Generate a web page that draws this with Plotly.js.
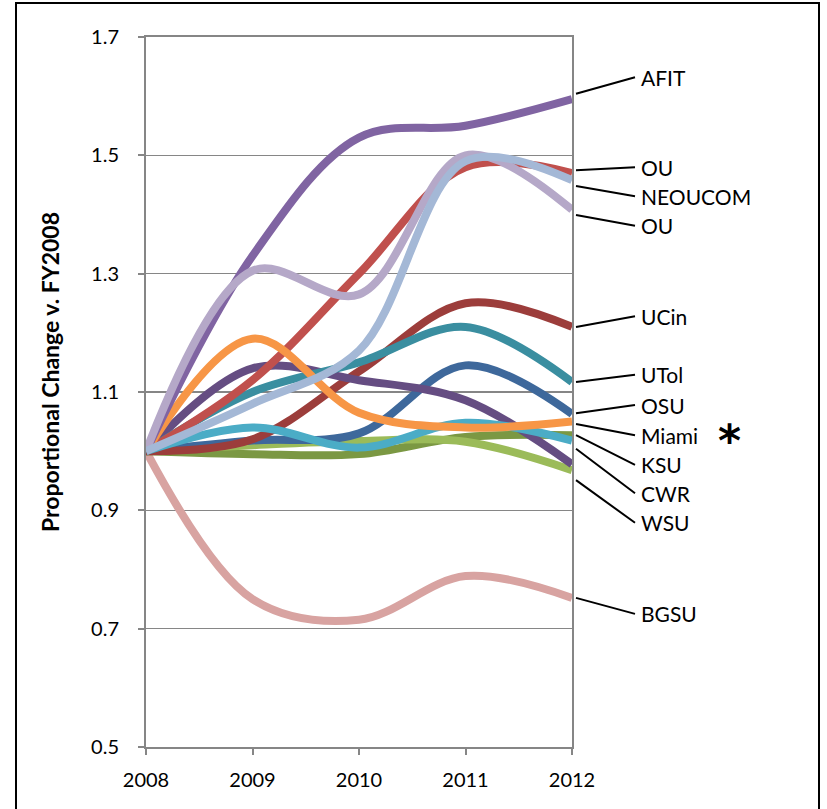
<!DOCTYPE html>
<html>
<head>
<meta charset="utf-8">
<script src="https://cdn.plot.ly/plotly-3.0.1.min.js"></script>
<style>
  html, body { margin: 0; padding: 0; background: #ffffff; overflow: hidden; }
  #frame { position: absolute; left: 15px; top: 2px; width: 805px; height: 900px; border: 2px solid #000; box-sizing: border-box; }
  #chart { position: absolute; left: 0; top: 0; width: 827px; height: 809px; }
</style>
</head>
<body>
<div id="frame"></div>
<div id="chart"></div>
<script>
// ---- data ----
const years = [2008, 2009, 2010, 2011, 2012];

const bgsu     = [1.000, 0.750, 0.715, 0.789, 0.752];
const ksu      = [1.000, 0.995, 0.995, 1.024, 1.027];
const wsu      = [1.000, 1.010, 1.017, 1.016, 0.968];
const osu      = [1.000, 1.018, 1.030, 1.145, 1.063];
const ucin     = [1.000, 1.020, 1.135, 1.250, 1.210];
const other    = [1.000, 1.140, 1.120, 1.086, 0.978];
const utol     = [1.000, 1.100, 1.150, 1.210, 1.117];
const cwr      = [1.000, 1.040, 1.006, 1.048, 1.018];
const ouRed    = [1.000, 1.120, 1.300, 1.480, 1.470];
const miami    = [1.000, 1.190, 1.065, 1.040, 1.050];
const afit     = [1.000, 1.330, 1.530, 1.550, 1.595];
const ouLav    = [1.000, 1.305, 1.265, 1.500, 1.408];
const neoucom  = [1.000, 1.080, 1.170, 1.490, 1.458];

const yTicks = [0.5, 0.7, 0.9, 1.1, 1.3, 1.5, 1.7];
const yTitle = "Proportional Change v. FY2008";

// series: name, values, colour (drawing order: first = bottom)
const series = [
  ["BGSU", bgsu, "#D8A3A1"],
  ["KSU", ksu, "#7B9843"],
  ["WSU", wsu, "#9BBB59"],
  ["OSU", osu, "#3E689B"],
  ["UCin", ucin, "#9C3D3B"],
  ["(unlabelled)", other, "#654D82"],
  ["UTol", utol, "#3A8EA0"],
  ["CWR", cwr, "#4BACC6"],
  ["OU", ouRed, "#C0504D"],
  ["Miami", miami, "#F79646"],
  ["AFIT", afit, "#8064A2"],
  ["OU", ouLav, "#B5A8C8"],
  ["NEOUCOM", neoucom, "#A4B8D6"]
];

// end-labels: text, leader start value, label centre value
const labelText  = ["AFIT", "OU", "NEOUCOM", "OU", "UCin", "UTol", "OSU", "Miami", "KSU", "CWR", "WSU", "BGSU"];
const labelHead  = [1.604, 1.475, 1.448, 1.399, 1.210, 1.117, 1.064, 1.046, 1.027, 1.004, 0.951, 0.752];
const labelTail  = [1.632, 1.480, 1.431, 1.381, 1.228, 1.129, 1.078, 1.027, 0.977, 0.929, 0.879, 0.725];

const traces = series.map(s => ({
  x: years, y: s[1], name: s[0], type: "scatter", mode: "lines",
  line: { color: s[2], width: 8, shape: "spline", smoothing: 1 },
  hoverinfo: "skip"
}));

const FONT = "Lato, 'Open Sans', sans-serif";

const annotations = labelText.map((t, i) => ({
  x: 1.0094, y: labelHead[i], xref: "paper", yref: "y",
  ax: 59, ay: labelTail[i], axref: "pixel", ayref: "y",
  text: t, showarrow: true, arrowhead: 0, arrowwidth: 2, arrowcolor: "#000000",
  xanchor: "left", yanchor: "middle", borderpad: 5,
  font: { family: FONT, size: 21, color: "#000000" }
}));

annotations.push({
  x: 1.37, y: 0.444, xref: "paper", yref: "paper", showarrow: false,
  text: "<b>*</b>", xanchor: "center", yanchor: "middle",
  font: { family: "DejaVu Sans", size: 44, color: "#000000" }, yshift: -9
});

annotations.push({
  x: -0.2254, y: 0.528, xref: "paper", yref: "paper", showarrow: false,
  text: "<b>" + yTitle + "</b>", textangle: -90, xanchor: "center", yanchor: "middle",
  font: { family: FONT, size: 23, color: "#000000" }
});

const layout = {
  width: 827, height: 809,
  margin: { l: 146, r: 255, t: 37, b: 62 },
  paper_bgcolor: "rgba(0,0,0,0)", plot_bgcolor: "rgba(0,0,0,0)",
  showlegend: false,
  font: { family: FONT, size: 20, color: "#000000" },
  xaxis: {
    range: [2008, 2012], tickvals: years, ticktext: years.map(String),
    showgrid: false, zeroline: false,
    showline: true, linecolor: "#868686", linewidth: 2, mirror: true,
    ticks: "outside", ticklen: 6, tickcolor: "#868686", tickwidth: 2,
    ticklabelstandoff: 8,
    tickfont: { family: FONT, size: 20, color: "#000000" }
  },
  yaxis: {
    range: [0.5, 1.7], tickvals: yTicks, tickformat: ".1f",
    showgrid: true, gridcolor: "#868686", gridwidth: 1.5, zeroline: false,
    showline: true, linecolor: "#868686", linewidth: 2, mirror: true,
    ticks: "outside", ticklen: 6, tickcolor: "#868686", tickwidth: 2,
    ticklabelstandoff: 15,
    tickfont: { family: FONT, size: 20, color: "#000000" }
  },
  annotations: annotations
};

Plotly.newPlot("chart", traces, layout, { staticPlot: true, displayModeBar: false });
</script>
</body>
</html>
